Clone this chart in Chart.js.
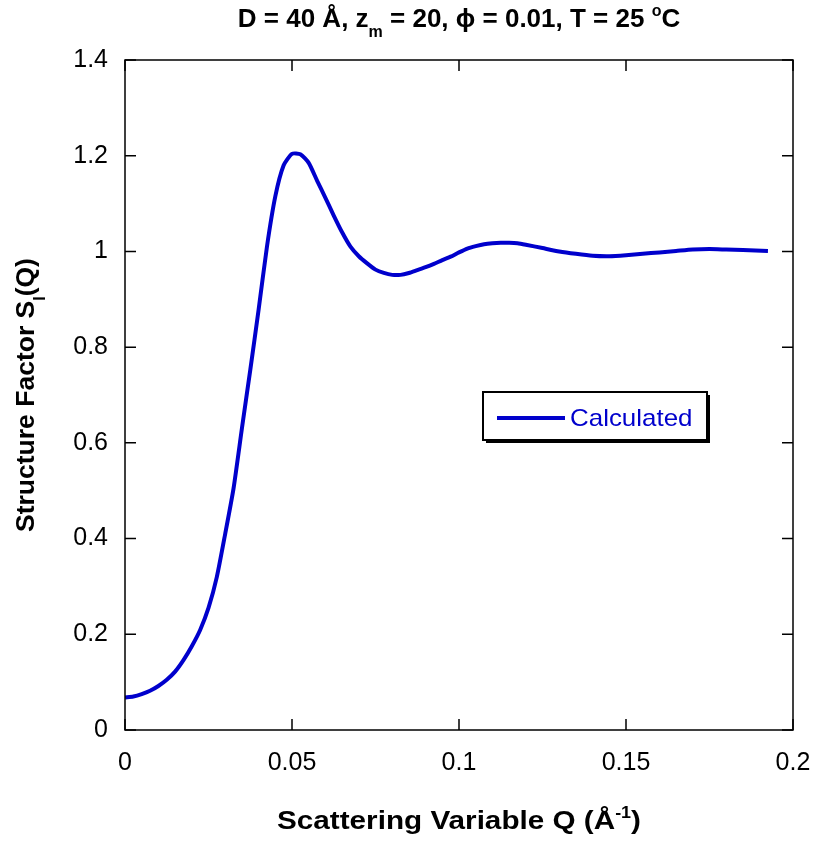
<!DOCTYPE html>
<html>
<head>
<meta charset="utf-8">
<script src="https://cdn.jsdelivr.net/npm/chart.js@4"></script>
<style>
  html, body { margin: 0; padding: 0; background: #fff; }
  #wrap { width: 815px; height: 850px; }
</style>
</head>
<body>
<div id="wrap"><canvas id="chart" width="815" height="850"></canvas></div>
<script>
// scattering variable Q (1/Angstrom)
const qValues = [
  0, 0.0025, 0.005, 0.0075, 0.01, 0.0125, 0.015, 0.0175, 0.02, 0.0225,
  0.025, 0.0275, 0.03, 0.0325, 0.035, 0.0375, 0.04, 0.0425, 0.045, 0.0475,
  0.05, 0.0525, 0.055, 0.0575, 0.06, 0.0625, 0.065, 0.0675, 0.07, 0.0725,
  0.075, 0.0775, 0.08, 0.0825, 0.085, 0.0875, 0.09, 0.0925, 0.095, 0.0975,
  0.1, 0.1025, 0.105, 0.1075, 0.11, 0.1125, 0.115, 0.1175, 0.12, 0.125,
  0.13, 0.135, 0.14, 0.145, 0.15, 0.155, 0.16, 0.165, 0.17, 0.175,
  0.18, 0.185, 0.1925
]
// calculated structure factor S_I(Q)
const sValues = [
  0.068, 0.070, 0.075, 0.082, 0.092, 0.105, 0.122, 0.146, 0.175, 0.209,
  0.255, 0.32, 0.41, 0.505, 0.63, 0.752, 0.878, 1.01, 1.115, 1.18,
  1.204, 1.203, 1.185, 1.148, 1.112, 1.075, 1.04, 1.01, 0.99, 0.975,
  0.962, 0.955, 0.951, 0.951, 0.955, 0.961, 0.967, 0.974, 0.982, 0.989,
  0.998, 1.006, 1.011, 1.015, 1.017, 1.018, 1.018, 1.017, 1.014, 1.007,
  1.0, 0.995, 0.991, 0.990, 0.992, 0.995, 0.998, 1.001, 1.004, 1.005,
  1.004, 1.003, 1.001
]
const xTicks = [0, 0.05, 0.1, 0.15, 0.2]
const yTicks = [0, 0.2, 0.4, 0.6, 0.8, 1, 1.2, 1.4]
const seriesName = 'Calculated'

const FONT = '"Liberation Sans", Arial, sans-serif'
const BLUE = '#0000cc'

// draw bold text with sub/superscript pieces, centred on x, optional horizontal stretch
const richText = (ctx, parts, x, y, size, stretch) => {
  const small = Math.round(size * 0.62)
  let total = 0
  parts.forEach(p => {
    ctx.font = 'bold ' + (p.sub || p.sup ? small : size) + 'px ' + FONT
    p.w = ctx.measureText(p.t).width
    total += p.w
  })
  ctx.save()
  ctx.translate(x, y)
  ctx.scale(stretch || 1, 1)
  let cx = -total / 2
  parts.forEach(p => {
    ctx.font = 'bold ' + (p.sub || p.sup ? small : size) + 'px ' + FONT
    let dy = 0
    if (p.sub) dy = size * 0.4
    if (p.sup) dy = -size * 0.42
    ctx.fillText(p.t, cx, dy)
    cx += p.w
  })
  ctx.restore()
}

const decorations = {
  id: 'decorations',
  afterDraw(chart) {
    const ctx = chart.ctx
    const a = chart.chartArea
    const xs = chart.scales.x
    const ys = chart.scales.y
    ctx.save()

    // frame
    ctx.strokeStyle = '#000'
    ctx.lineWidth = 1.5
    ctx.strokeRect(a.left, a.top, a.right - a.left, a.bottom - a.top)

    // inward ticks on all four sides
    ctx.beginPath()
    xTicks.forEach(v => {
      const px = xs.getPixelForValue(v)
      ctx.moveTo(px, a.bottom); ctx.lineTo(px, a.bottom - 11)
      ctx.moveTo(px, a.top); ctx.lineTo(px, a.top + 11)
    })
    yTicks.forEach(v => {
      const py = ys.getPixelForValue(v)
      ctx.moveTo(a.left, py); ctx.lineTo(a.left + 11, py)
      ctx.moveTo(a.right, py); ctx.lineTo(a.right - 11, py)
    })
    ctx.stroke()

    ctx.fillStyle = '#000'
    ctx.textBaseline = 'alphabetic'
    ctx.textAlign = 'left'
    const mid = (a.left + a.right) / 2

    // title
    richText(ctx, [
      { t: 'D = 40 Å, z' }, { t: 'm', sub: true },
      { t: ' = 20, ϕ = 0.01, T = 25 ' }, { t: 'o', sup: true }, { t: 'C' }
    ], mid, 27, 26)

    // x axis title
    richText(ctx, [
      { t: 'Scattering Variable Q (Å' }, { t: '-1', sup: true }, { t: ')' }
    ], mid, 829, 26.5, 1.12)

    // y axis title
    ctx.save()
    ctx.translate(34, (a.top + a.bottom) / 2)
    ctx.rotate(-Math.PI / 2)
    richText(ctx, [
      { t: 'Structure Factor S' }, { t: 'I', sub: true }, { t: '(Q)' }
    ], 0, 0, 26.5)
    ctx.restore()

    // legend box with shadow
    const lx = 483, ly = 392, lw = 224, lh = 48
    ctx.fillStyle = '#000'
    ctx.fillRect(lx + 3, ly + 3, lw, lh)
    ctx.fillStyle = '#fff'
    ctx.fillRect(lx, ly, lw, lh)
    ctx.lineWidth = 2
    ctx.strokeStyle = '#000'
    ctx.strokeRect(lx, ly, lw, lh)
    ctx.strokeStyle = BLUE
    ctx.lineWidth = 4
    ctx.beginPath()
    ctx.moveTo(497, 418); ctx.lineTo(565, 418)
    ctx.stroke()
    ctx.save()
    ctx.translate(570, 419)
    ctx.scale(1.08, 1)
    ctx.fillStyle = BLUE
    ctx.font = '24px ' + FONT
    ctx.textBaseline = 'middle'
    ctx.fillText(seriesName, 0, 0)
    ctx.restore()

    ctx.restore()
  }
}

new Chart(document.getElementById('chart'), {
  type: 'line',
  data: {
    datasets: [{
      label: seriesName,
      data: qValues.map((q, i) => ({ x: q, y: sValues[i] })),
      borderColor: BLUE,
      borderWidth: 4,
      pointRadius: 0,
      tension: 0.2,
      fill: false
    }]
  },
  options: {
    responsive: false,
    animation: false,
    devicePixelRatio: 1,
    layout: { padding: { top: 60, right: 22, left: 0, bottom: 0 } },
    plugins: {
      legend: { display: false },
      title: { display: false },
      tooltip: { enabled: false }
    },
    scales: {
      x: {
        type: 'linear',
        min: 0,
        max: 0.2,
        afterFit: (s) => { s.height = 120; s.paddingLeft = 0; s.paddingRight = 0 },
        afterBuildTicks: (s) => { s.ticks = xTicks.map(v => ({ value: v })) },
        grid: { display: false, drawTicks: false },
        border: { display: false },
        ticks: {
          padding: 18,
          maxRotation: 0,
          color: '#000',
          font: { family: FONT, size: 25 },
          callback: (v) => String(+v.toFixed(3))
        }
      },
      y: {
        min: 0,
        max: 1.4,
        afterFit: (s) => { s.width = 125; s.paddingTop = 0; s.paddingBottom = 0 },
        afterBuildTicks: (s) => { s.ticks = yTicks.map(v => ({ value: v })) },
        grid: { display: false, drawTicks: false },
        border: { display: false },
        ticks: {
          padding: 17,
          color: '#000',
          font: { family: FONT, size: 25 },
          callback: (v) => String(+v.toFixed(2))
        }
      }
    }
  },
  plugins: [decorations]
})
</script>
</body>
</html>
